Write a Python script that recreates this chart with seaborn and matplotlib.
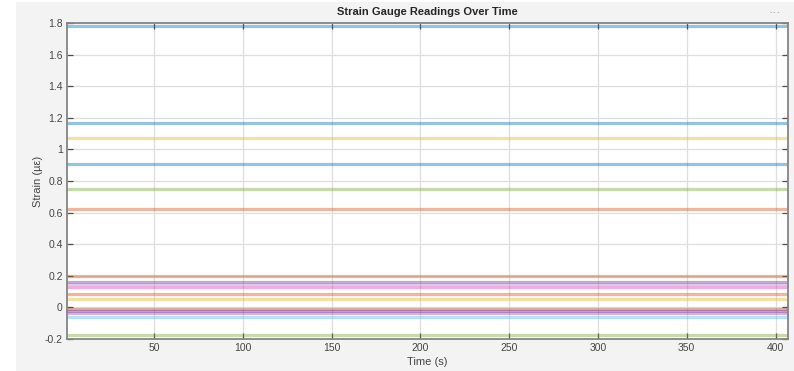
import numpy as np
import pandas as pd
import matplotlib
matplotlib.use("Agg")
import matplotlib.pyplot as plt
import seaborn as sns

# Gauge readings (constant over the recording)
time_s = [1, 407]
gauge_names = ["G01", "G02", "G03", "G04", "G05", "G06", "G07", "G08", "G09",
               "G10", "G11", "G12", "G13", "G14", "G15", "G16", "G17"]
gauge_strain = [1.78, 1.17, 1.07, 0.91, 0.75, 0.62, 0.20, 0.16, 0.145,
                0.13, 0.085, 0.055, -0.01, -0.025, -0.035, -0.06, -0.175]
gauge_colors = ["#0072BD", "#0072BD", "#EDB120", "#0072BD", "#77AC30", "#D95319",
                "#D95319", "#7E2F8E", "#A98FE0", "#E040B0", "#D95319", "#EDB120",
                "#A2442F", "#7E2F8E", "#9B4FC0", "#4DBEEE", "#77AC30"]
y_ticks = [-0.2, 0, 0.2, 0.4, 0.6, 0.8, 1, 1.2, 1.4, 1.6, 1.8]
y_tick_labels = ["-0.2", "0", "0.2", "0.4", "0.6", "0.8", "1", "1.2", "1.4", "1.6", "1.8"]
x_ticks = [50, 100, 150, 200, 250, 300, 350, 400]

rows = []
for name, val in zip(gauge_names, gauge_strain):
    for t in time_s:
        rows.append({"Time": t, "Strain": val, "Gauge": name})
df = pd.DataFrame(rows)

sns.set_theme(style="white")
plt.rcParams["font.family"] = ["Liberation Sans", "DejaVu Sans"]

fig = plt.figure(figsize=(7.94, 3.71), dpi=100, facecolor="#f3f3f3")
# white margin strips at the left and top edges
fig.add_artist(plt.Rectangle((0, 0), 16 / 794, 1, transform=fig.transFigure,
                             facecolor="white", edgecolor="none", zorder=-5))
fig.add_artist(plt.Rectangle((0, 1 - 2 / 371), 1, 2 / 371, transform=fig.transFigure,
                             facecolor="white", edgecolor="none", zorder=-5))
ax = fig.add_axes([67 / 794, (371 - 339) / 371, (788 - 67) / 794, (339 - 23) / 371])
ax.set_zorder(2)
ax.set_facecolor("white")

sns.lineplot(data=df, x="Time", y="Strain", hue="Gauge", palette=gauge_colors,
             ax=ax, legend=False, linewidth=2.3, alpha=0.42)

ax.set_xlim(1, 407)
ax.set_ylim(-0.2, 1.8)
ax.set_xticks(x_ticks)
ax.set_xticklabels([str(v) for v in x_ticks])
ax.set_yticks(y_ticks)
ax.set_yticklabels(y_tick_labels)
ax.grid(True, color="#dedede", linewidth=0.9)
ax.set_axisbelow(True)
ax.tick_params(axis="both", direction="in", length=4, width=0.9, color="#505050",
               labelsize=7.5, labelcolor="#454545", top=True, right=True,
               bottom=True, left=True, pad=3)
for s in ax.spines.values():
    s.set_color("#858585")
    s.set_linewidth(1.3)

ax.set_xlabel("Time (s)", fontsize=8, color="#454545", labelpad=3)
ax.set_ylabel("Strain (µε)", fontsize=8, color="#454545", labelpad=1)
ax.set_title("Strain Gauge Readings Over Time", fontsize=8, fontweight="bold",
             color="#262626", pad=6)
fig.text(775 / 794, 1 - 13 / 371, "···", fontsize=9, color="#9a9a9a",
         ha="center", va="center")

fig.savefig("out.png", dpi=100, facecolor=fig.get_facecolor())
